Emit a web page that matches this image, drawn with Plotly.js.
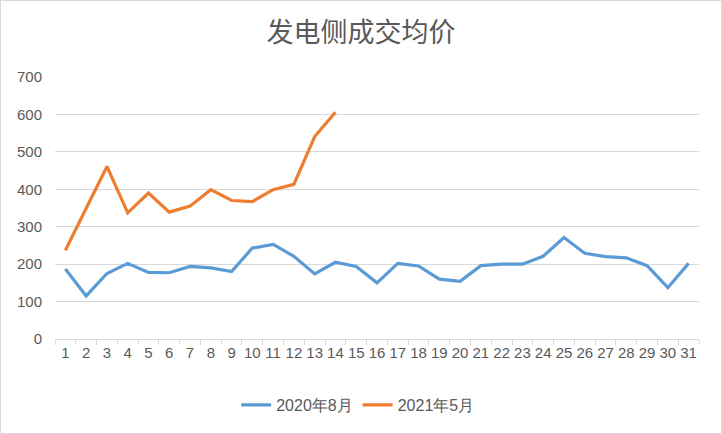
<!DOCTYPE html>
<html>
<head>
<meta charset="utf-8">
<script src="https://cdn.plot.ly/plotly-3.0.1.min.js"></script>
<style>
html,body{margin:0;padding:0;background:#fff;}
#wrap{position:relative;width:722px;height:434px;}
#chart{width:722px;height:434px;}
#frame{position:absolute;left:0;top:0;width:720px;height:432px;border:1px solid #d9d9d9;pointer-events:none;}
</style>
</head>
<body>
<div id="wrap"><div id="chart"></div><div id="frame"></div></div>
<script>
const days = ["1","2","3","4","5","6","7","8","9","10","11","12","13","14","15","16","17","18","19","20","21","22","23","24","25","26","27","28","29","30","31"];
const aug2020 = [187,115,175,202,178,177,194,190,180,243,253,221,174,205,194,150,202,195,160,154,196,200,200,221,271,229,220,217,196,137,202];
const may2021Days = ["1","2","3","4","5","6","7","8","9","10","11","12","13","14"];
const may2021 = [237,348,461,337,390,339,355,399,370,367,399,413,541,606];
const yTicks = [0,100,200,300,400,500,600,700];

const font = "'Noto Sans CJK SC', 'Noto Sans', sans-serif";
const numFont = "'Liberation Sans', 'DejaVu Sans', sans-serif";
const traces = [
  {x: days, y: aug2020, type: 'scatter', mode: 'lines', name: '2020年8月',
   line: {color: '#5B9BD5', width: 3.2}},
  {x: may2021Days, y: may2021, type: 'scatter', mode: 'lines', name: '2021年5月',
   line: {color: '#ED7D31', width: 3.2}}
];
const layout = {
  width: 722, height: 434,
  margin: {l: 55, r: 23, t: 77, b: 95},
  paper_bgcolor: '#fff', plot_bgcolor: '#fff',
  font: {family: font, color: '#595959', size: 15},
  title: {text: '发电侧成交均价', x: 0.5, xanchor: 'center', y: 0.924, yanchor: 'middle',
          font: {family: font, size: 27, color: '#595959'}},
  showlegend: true,
  legend: {orientation: 'h', x: 0.47, xanchor: 'center', y: -0.252, yanchor: 'middle',
           font: {family: numFont, size: 16, color: '#595959'}},
  xaxis: {type: 'category', categoryorder: 'array', categoryarray: days,
          range: [-0.5, 30.5], showgrid: false, showline: true, linecolor: '#d9d9d9', linewidth: 1,
          ticks: 'outside', tickson: 'boundaries', ticklen: 5, tickcolor: '#d9d9d9', tickangle: 0,
          tickfont: {family: numFont, size: 15, color: '#595959'}, fixedrange: true},
  yaxis: {range: [0, 700], tickvals: yTicks, showgrid: true, gridcolor: '#d9d9d9', gridwidth: 1,
          zeroline: false, showline: false, ticks: 'outside', ticklen: 9, tickcolor: 'rgba(0,0,0,0)',
          tickfont: {family: numFont, size: 15, color: '#595959'}, fixedrange: true}
};
Plotly.newPlot('chart', traces, layout, {displayModeBar: false, staticPlot: true});
</script>
</body>
</html>
